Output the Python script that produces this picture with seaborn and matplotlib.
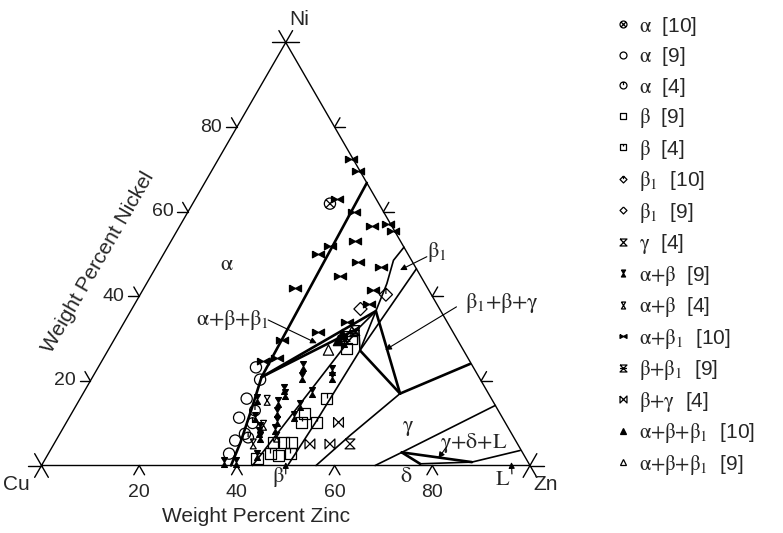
import numpy as np
import seaborn as sns
import matplotlib.pyplot as plt
from matplotlib.path import Path
from matplotlib.lines import Line2D

sns.set_style('white')
plt.rcParams['font.family'] = ['Liberation Sans', 'DejaVu Sans']
plt.rcParams['mathtext.fontset'] = 'stix'

S3 = np.sqrt(3) / 2


def tern(zn, ni):
    zn = np.asarray(zn, float)
    ni = np.asarray(ni, float)
    return zn + ni / 2, ni * S3


# ---- measured points (wt% Zn, wt% Ni) ----
a10_zn = [28.1]
a10_ni = [61.9]
a9_zn = [32.3, 34.6, 34.1, 34.8, 37.9, 36.7, 37.0]
a9_ni = [23.2, 20.3, 15.8, 11.3, 7.5, 5.9, 2.8]
a4_zn = [37.2, 38.2, 39.0]
a4_ni = [13.0, 10.0, 6.6]
b9_zn = [47.8, 46.8, 48.5, 47.3, 48.7]
b9_ni = [12.2, 5.5, 5.5, 2.4, 27.6]
b4_zn = [48.2, 51.2, 50.5, 44.7, 45.4, 49.5, 43.3, 48.5]
b4_ni = [10.2, 10.2, 15.8, 5.5, 2.8, 2.8, 1.6, 30.0]
b1_10_zn = [50.3]
b1_10_ni = [40.4]
b1_9_zn = [46.8]
b1_9_ni = [37.0]
g4_zn = [60.6]
g4_ni = [5.1]
ab9_zn = [41.8, 42.8, 40.5, 41.4, 41.0, 41.9, 42.9, 43.5, 48.2, 49.0, 46.7,
          45.8, 45.7, 36.2, 38.0, 40.5, 41.4, 42.9, 47.3, 37.0, 39.4, 40.2]
ab9_ni = [23.6, 20.9, 18.1, 17.0, 15.0, 12.6, 10.6, 8.7, 22.5, 20.9, 17.3,
          14.2, 11.8, 15.8, 11.4, 7.9, 6.7, 2.4, 29.1, 0.8, 0.8, 9.05]
ab4_zn = [38.5, 40.7, 44.8, 40.8]
ab4_ni = [15.4, 9.5, 6.7, 5.1]
ab1_zn = [27.1, 30.0, 28.9, 34.0, 39.3, 42.4, 44.2, 37.7, 33.1, 31.6, 40.8,
          46.1, 38.7, 31.0, 47.2, 47.9, 45.5, 40.9, 34.4, 35.4, 33.0]
ab1_ni = [72.5, 69.7, 63.0, 60.0, 56.6, 57.1, 55.4, 53.0, 52.0, 49.9, 48.1,
          47.0, 44.9, 41.9, 41.4, 38.1, 33.9, 31.5, 29.6, 25.5, 24.8]
bb1_zn = [46.9, 48.2]
bb1_ni = [30.5, 31.9]
bg4_zn = [55.7, 52.4, 56.5]
bg4_ni = [10.2, 5.1, 5.1]
abb10_zn = [45.9, 45.9]
abb10_ni = [31.2, 29.6]
abb9_zn = [45.1, 47.7]
abb9_ni = [27.3, 31.7]

# ---- phase boundaries (wt% Zn, wt% Ni) ----
thick_lines = [
    ([33.2, 34.6], [66.8, 20.9]),
    ([34.6, 36.3, 38.0, 38.8], [20.9, 13.5, 5.5, 0.0]),
    ([34.6, 50.2], [20.9, 36.5]),
    ([34.6, 48.7], [20.9, 32.5]),
    ([50.2, 64.9], [36.5, 17.0]),
    ([51.6, 64.9], [27.2, 17.0]),
    ([64.9, 75.7], [17.0, 24.0]),
    ([72.2, 87.7], [3.1, 0.8]),
    ([72.2, 77.3], [3.1, 0.4]),
]
thin_lines = [
    ([48.7, 50.2], [32.5, 36.5]),
    ([48.7, 51.6], [32.5, 27.2]),
    ([50.2, 51.6], [36.5, 27.2]),
    ([43.2, 48.7], [0.0, 32.5]),
    ([50.4, 51.0, 51.6], [0.0, 10.0, 27.2]),
    ([50.2, 49.2, 47.8, 48.4], [36.5, 43.0, 48.5, 51.6]),
    ([51.6, 53.5], [27.2, 46.5]),
    ([64.9, 59.6, 56.2], [17.0, 7.1, 0.0]),
    ([85.8, 72.2, 68.3], [14.2, 3.1, 0.0]),
    ([77.3, 87.7], [0.4, 0.8]),
    ([87.7, 96.2], [0.8, 3.55]),
]

# ---- markers ----
M, L = Path.MOVETO, Path.LINETO


def seg(*pts):
    return Path(pts, [M] + [L] * (len(pts) - 1))


circ = Path.unit_circle()
sq = seg((-1, -1), (1, -1), (1, 1), (-1, 1), (-1, -1))
dia = seg((0, 1), (1, 0), (0, -1), (-1, 0), (0, 1))
m_otimes = Path.make_compound_path(circ, seg((-.7, -.7), (.7, .7)), seg((-.7, .7), (.7, -.7)))
m_a4 = Path.make_compound_path(circ, seg((0, 0.1), (0, 1)))
m_b4 = Path.make_compound_path(sq, seg((0, 1), (0, 0.2)))
m_b1_10 = Path.make_compound_path(dia, seg((0, 1), (0, 0.1)))
hour_w = [(-1, 1), (1, 1), (-1, -1), (1, -1), (-1, 1)]
hour_n = [(-.6, 1), (.6, 1), (-.6, -1), (.6, -1), (-.6, 1)]
bow_f = [(-1, .55), (1, -.55), (1, .55), (-1, -.55), (-1, .55)]
bow_o = [(-1, 1), (1, -1), (1, 1), (-1, -1), (-1, 1)]
m_bb1 = Path.make_compound_path(Path(hour_w), seg((-1, 0), (1, 0)))

groups = [
    (a10_zn, a10_ni, m_otimes, False, 65, r'$\mathrm{\alpha}$  [10]'),
    (a9_zn, a9_ni, 'o', False, 65, r'$\mathrm{\alpha}$  [9]'),
    (a4_zn, a4_ni, m_a4, False, 60, r'$\mathrm{\alpha}$  [4]'),
    (b9_zn, b9_ni, sq, False, 65, r'$\mathrm{\beta}$  [9]'),
    (b4_zn, b4_ni, m_b4, False, 65, r'$\mathrm{\beta}$  [4]'),
    (b1_10_zn, b1_10_ni, m_b1_10, False, 90, r'$\mathrm{\beta_1}$  [10]'),
    (b1_9_zn, b1_9_ni, dia, False, 90, r'$\mathrm{\beta_1}$  [9]'),
    (g4_zn, g4_ni, hour_w, False, 50, r'$\mathrm{\gamma}$  [4]'),
    (ab9_zn, ab9_ni, hour_n, True, 50, r'$\mathrm{\alpha{+}\beta}$  [9]'),
    (ab4_zn, ab4_ni, hour_n, False, 50, r'$\mathrm{\alpha{+}\beta}$  [4]'),
    (ab1_zn, ab1_ni, bow_f, True, 75, r'$\mathrm{\alpha{+}\beta_1}$  [10]'),
    (bb1_zn, bb1_ni, m_bb1, False, 50, r'$\mathrm{\beta{+}\beta_1}$  [9]'),
    (bg4_zn, bg4_ni, bow_o, False, 50, r'$\mathrm{\beta{+}\gamma}$  [4]'),
    (abb10_zn, abb10_ni, '^', True, 55, r'$\mathrm{\alpha{+}\beta{+}\beta_1}$  [10]'),
    (abb9_zn, abb9_ni, '^', False, 55, r'$\mathrm{\alpha{+}\beta{+}\beta_1}$  [9]'),
]

PX = 4.885
fig = plt.figure(figsize=(7.83, 5.33), dpi=100)
ax = fig.add_axes([0, 0, 1, 1])
ax.set_xlim(-41.5 / PX, (783 - 41.5) / PX)
ax.set_ylim(-(533 - 465.5) / PX, 465.5 / PX)
ax.axis('off')

# triangle frame
fx, fy = tern([0, 100, 0, 0], [0, 0, 100, 0])
ax.plot(fx, fy, color='k', lw=1.0)

# tick stubs and corner crosses
stub = 2.2


def stubs(zn, ni, angles, length=stub):
    x0, y0 = tern(zn, ni)
    for a in angles:
        r = np.radians(a)
        ax.plot([x0, x0 + length * np.cos(r)], [y0, y0 + length * np.sin(r)], color='k', lw=1.0)


for v in [20, 40, 60, 80]:
    stubs(v, 0, [240, 300])
    stubs(0, v, [180, 120])
    stubs(100 - v, v, [0, 60])
    bx, by = tern(v, 0)
    ax.text(bx, by - 5.5, str(v), ha='center', va='center', fontsize=14)
    lx, ly = tern(0, v)
    ax.text(lx - 5.2, ly, str(v), ha='center', va='center', fontsize=14)
stubs(0, 100, [0, 180, 60, 120], 2.8)
stubs(0, 0, [120, 300, 180, 240], 2.8)
stubs(100, 0, [240, 60, 300, 0], 2.8)

ax.text(*tern(-2.9, -4.6), 'Cu', ha='center', va='center', fontsize=15)
ax.text(*tern(105.5, -4.6), 'Zn', ha='center', va='center', fontsize=15)
ax.text(*tern(0, 105.5), 'Ni', ha='center', va='center', fontsize=15)
ax.text(*tern(50, -12.0), 'Weight Percent Zinc', ha='center', va='center', fontsize=15)
ax.text(*tern(-12.5, 48), 'Weight Percent Nickel', ha='center', va='center',
        fontsize=15, rotation=60, rotation_mode='anchor')

for zn, ni in thick_lines:
    ax.plot(*tern(zn, ni), color='k', lw=1.9, solid_capstyle='round')
for zn, ni in thin_lines:
    ax.plot(*tern(zn, ni), color='k', lw=1.2)

handles = []
for zn, ni, mk, filled, s, lab in groups:
    x, y = tern(zn, ni)
    sns.scatterplot(x=x, y=y, marker=mk, s=s, color='k',
                    facecolor='k' if filled else 'none', edgecolor='k',
                    linewidth=0.9, ax=ax, zorder=3)
    handles.append(Line2D([], [], ls='none', marker=mk, color='k', ms=5,
                          mfc='k' if filled else 'none', mew=0.9, label=lab))

# phase field labels
lab_kw = dict(fontsize=16, ha='center', va='center')
ax.text(*tern(14.2, 47.4), r'$\mathrm{\alpha}$', **lab_kw)
ax.text(*tern(22.0, 34.4), r'$\mathrm{\alpha{+}\beta{+}\beta_1}$', **lab_kw)
ax.text(*tern(55.7, 50.4), r'$\mathrm{\beta_1}$', **lab_kw)
ax.text(*tern(75.0, 38.4), r'$\mathrm{\beta_1{+}\beta{+}\gamma}$', **lab_kw)
ax.text(*tern(70.5, 9.1), r'$\mathrm{\gamma}$', **lab_kw)
ax.text(*tern(85.9, 5.25), r'$\mathrm{\gamma{+}\delta{+}L}$', **lab_kw)
ax.text(*tern(76.1, -2.7), r'$\mathrm{\delta}$', **lab_kw)
ax.text(*tern(49.8, -2.7), r'$\mathrm{\beta}$', **lab_kw)
ax.text(*tern(96.2, -3.4), r'$\mathrm{L}$', **lab_kw)

arrows = [
    ((29.2, 34.4), (41.9, 28.9)),
    ((54.2, 49.35), (50.3, 46.2)),
    ((66.2, 37.5), (56.7, 27.3)),
    ((80.7, 4.44), (80.4, 1.7)),
    ((51.0, -2.0), (49.6, 0.8)),
    ((97.3, -2.0), (95.8, 0.8)),
]
for (z0, n0), (z1, n1) in arrows:
    ax.annotate('', xy=tern(z1, n1), xytext=tern(z0, n0),
                arrowprops=dict(arrowstyle='-|>', color='k', lw=0.8,
                                mutation_scale=9, shrinkA=0, shrinkB=0))

ax.legend(handles=handles, loc='upper left', bbox_to_anchor=(600 / 783, 1 - 0 / 533),
          frameon=False, fontsize=15, handlelength=0.8, handletextpad=0.35,
          labelspacing=0.36, borderpad=0.2)

fig.savefig('out.png', dpi=100)
